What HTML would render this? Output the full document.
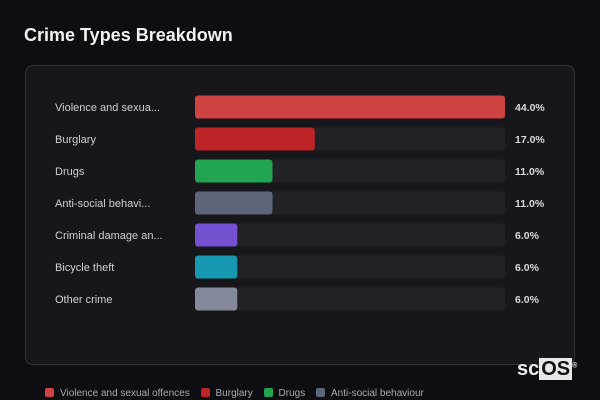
<!DOCTYPE html>
<html><head><meta charset="utf-8"><style>
body{margin:0;width:600px;height:400px;background:#0e0d12;font-family:"Liberation Sans",sans-serif;overflow:hidden;position:relative}
.title{position:absolute;left:24px;top:25px;font-size:18px;font-weight:bold;color:#f2f2f2}
.panel{position:absolute;left:25px;top:65px;width:550px;height:300px;background:#17161b;border:1px solid #34333a;border-radius:8px;box-sizing:border-box}
.logo{position:absolute;left:517px;top:358px;font-size:20px;font-weight:bold;color:#eee}
.logo span{background:#e8e8e8;color:#111;padding:0 2px}
.legend{position:absolute;left:45px;top:388px;font-size:10px;color:#aaa;white-space:nowrap}
.li{display:inline-block;margin-right:8px}
.li i{display:inline-block;width:9px;height:9px;border-radius:2px;margin-right:6px;vertical-align:-1px}
</style></head><body>
<div class="title">Crime Types Breakdown</div>
<div class="panel"></div>
<svg id="chart" width="600" height="400" style="position:absolute;left:0;top:0"></svg>
<div class="logo">sc<span>OS</span><sup style="font-size:7px">®</sup></div>
<div class="legend">
<span class="li"><i style="background:#d04343"></i>Violence and sexual offences</span>
<span class="li"><i style="background:#bd2428"></i>Burglary</span>
<span class="li"><i style="background:#22a550"></i>Drugs</span>
<span class="li"><i style="background:#5d6678"></i>Anti-social behaviour</span>
</div>
<script>
const categories=["Violence and sexua...","Burglary","Drugs","Anti-social behavi...","Criminal damage an...","Bicycle theft","Other crime"];
const values=[44.0,17.0,11.0,11.0,6.0,6.0,6.0];
const colors=["#d04343","#bd2428","#22a550","#5d6678","#7451d0","#1698b0","#848a99"];
const svg=document.getElementById('chart');
const NS='http://www.w3.org/2000/svg';
const x0=195,trackW=310,max=Math.max(...values);
const xs=v=>v/max*trackW;
const yc=i=>107+i*32;
categories.forEach((c,i)=>{
 const t=document.createElementNS(NS,'rect');
 t.setAttribute('x',x0);t.setAttribute('y',yc(i)-11.5);t.setAttribute('width',trackW);t.setAttribute('height',23);t.setAttribute('rx',3);t.setAttribute('fill','#222126');
 
 
 svg.appendChild(t);
 const b=document.createElementNS(NS,'rect');
 b.setAttribute('x',x0);b.setAttribute('y',yc(i)-11.5);b.setAttribute('width',xs(values[i]));b.setAttribute('height',23);b.setAttribute('rx',3);b.setAttribute('fill',colors[i]);
 
 
 svg.appendChild(b);
 const l=document.createElementNS(NS,'text');
 l.setAttribute('x',55);l.setAttribute('y',yc(i)+4);l.setAttribute('fill','#cfcfcf');l.setAttribute('font-size','11');l.setAttribute('font-family','Liberation Sans, sans-serif');l.textContent=c;
 
 
 svg.appendChild(l);
 const v=document.createElementNS(NS,'text');
 v.setAttribute('x',515);v.setAttribute('y',yc(i)+4);v.setAttribute('fill','#d8d8d8');v.setAttribute('font-size','10.5');v.setAttribute('font-weight','bold');v.setAttribute('font-family','Liberation Sans, sans-serif');v.textContent=values[i].toFixed(1)+'%';
 
 
 svg.appendChild(v);
});
</script>
</body></html>
